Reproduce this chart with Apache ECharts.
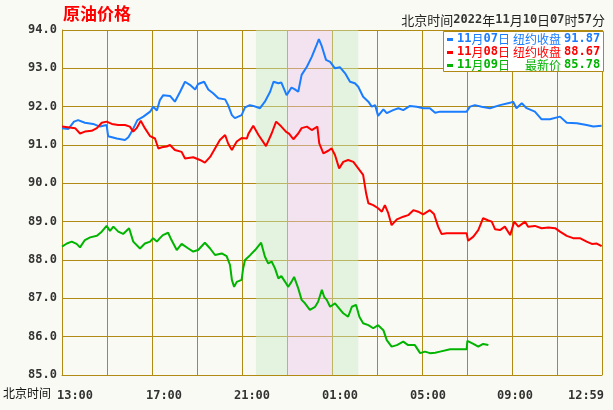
<!DOCTYPE html>
<html><head><meta charset="utf-8">
<script src="https://cdn.jsdelivr.net/npm/echarts@6/dist/echarts.min.js"></script>
<style>html,body{margin:0;padding:0;background:#fafaf5}#c{width:613px;height:410px}</style>
</head><body><div id="c"></div>
<script>
// minutes since 13:00 Beijing time
const blueT = [0,17,32,43,61,83,101,119,123,146,168,177,186,201,217,235,243,253,261,270,288,301,315,328,341,355,363,379,390,403,417,435,443,453,461,479,488,501,510,528,541,555,564,577,585,599,612,621,630,639,653,666,679,685,693,704,715,728,741,755,768,781,790,803,817,826,835,843,857,866,883,897,910,928,946,963,981,995,1008,1079,1088,1101,1119,1141,1168,1195,1203,1212,1226,1239,1261,1279,1301,1328,1346,1373,1399,1417,1439];
const blueV = [91.44,91.42,91.61,91.65,91.58,91.55,91.48,91.52,91.23,91.17,91.13,91.20,91.35,91.65,91.74,91.87,92.00,91.90,92.17,92.30,92.28,92.13,92.39,92.65,92.57,92.45,92.59,92.65,92.45,92.35,92.22,92.19,92.04,91.78,91.70,91.78,91.98,92.04,92.02,91.96,92.13,92.39,92.65,92.61,92.63,92.30,92.50,92.45,92.39,92.83,93.04,93.30,93.61,93.76,93.57,93.22,93.17,93.00,93.03,92.87,92.65,92.61,92.52,92.26,92.13,92.00,92.04,91.76,91.93,91.83,91.91,91.96,91.91,92.02,92.00,91.96,91.96,91.84,91.87,91.87,92.00,92.04,92.00,91.96,92.04,92.10,92.13,91.96,92.09,91.96,91.87,91.67,91.67,91.74,91.58,91.57,91.52,91.48,91.50];
const redT = [0,35,48,61,79,93,106,119,133,150,168,181,190,199,210,221,235,248,257,266,279,288,301,319,328,350,368,381,395,408,421,435,443,453,466,479,493,497,510,524,544,559,571,585,597,606,617,630,639,653,666,681,686,697,710,719,728,739,750,763,777,790,803,811,817,830,843,853,861,870,879,893,910,923,937,950,963,981,992,1003,1012,1026,1079,1083,1097,1110,1123,1137,1146,1155,1168,1181,1195,1206,1217,1235,1243,1261,1279,1297,1315,1328,1346,1363,1381,1399,1413,1426,1439];
const redV = [91.48,91.44,91.30,91.35,91.37,91.44,91.58,91.61,91.55,91.52,91.52,91.48,91.35,91.44,91.63,91.44,91.23,91.17,90.91,90.94,90.96,91.00,90.87,90.82,90.65,90.68,90.61,90.54,90.69,90.91,91.13,91.26,91.04,90.87,91.09,91.18,91.17,91.29,91.50,91.26,90.97,91.30,91.61,91.48,91.35,91.29,91.15,91.30,91.44,91.48,91.39,91.48,91.04,90.78,90.85,90.91,90.74,90.39,90.56,90.61,90.56,90.39,90.22,89.74,89.48,89.43,89.35,89.26,89.43,89.22,88.91,89.06,89.13,89.17,89.30,89.26,89.19,89.30,89.20,88.87,88.68,88.70,88.70,88.50,88.61,88.78,89.09,89.03,89.00,88.80,88.78,88.87,88.65,89.00,88.87,89.00,88.87,88.89,88.83,88.85,88.83,88.74,88.63,88.57,88.57,88.48,88.42,88.43,88.36];
const greenT = [0,13,26,39,48,61,75,93,106,119,128,137,150,163,179,190,208,221,235,243,253,261,269,283,292,306,319,337,350,363,381,395,408,426,439,448,453,459,466,479,483,488,501,515,524,531,541,550,559,568,577,585,595,603,612,619,630,639,648,661,675,683,693,699,706,715,728,739,750,763,773,784,793,803,817,830,843,857,866,879,893,910,923,941,955,968,981,995,1008,1035,1079,1081,1097,1110,1123,1137];
const greenV = [88.35,88.43,88.48,88.42,88.33,88.52,88.59,88.63,88.74,88.89,88.76,88.87,88.74,88.68,88.83,88.48,88.30,88.43,88.48,88.57,88.48,88.57,88.65,88.71,88.52,88.26,88.42,88.30,88.22,88.26,88.45,88.30,88.13,88.17,88.10,87.87,87.48,87.30,87.43,87.48,87.78,88.00,88.12,88.26,88.37,88.45,88.09,87.91,87.96,87.78,87.52,87.58,87.43,87.30,87.43,87.56,87.26,86.96,86.87,86.70,86.78,86.91,87.22,87.04,86.96,86.78,86.87,86.74,86.61,86.52,86.78,86.83,86.52,86.35,86.30,86.22,86.30,86.17,85.91,85.74,85.78,85.87,85.78,85.78,85.57,85.61,85.57,85.58,85.61,85.67,85.67,85.89,85.81,85.74,85.81,85.78];
const xTickLabels = ['13:00','17:00','21:00','01:00','05:00','09:00','12:59'];
const bandT = [517, 603, 720, 790];
const legendDates = ['11月07日','11月08日','11月09日'];
const legendNames = ['纽约收盘','纽约收盘','最新价'];
const legendValues = ['91.87','88.67','85.78'];
const titleText = '原油价格';
const timeText = ['北京时间','2022','年','11','月','10','日','07','时','57','分'];

const GOLD = '#b08a12';
const COLORS = ['#1a7cff', '#ff0000', '#00b400'];
const MONO = 'DejaVu Sans Mono';
const CJK = 'Noto Sans CJK SC';
const labelShift = [13, 12, 10, 8, 6, 3, -16];

const zip = (t, v) => t.map((x, i) => [x, v[i]]);

const xRich = {};
labelShift.forEach((d, i) => {
  xRich['s' + i] = {fontFamily: MONO, fontWeight: 'bold', fontSize: 12, color: '#333',
    padding: d >= 0 ? [0, 0, 0, 2 * d] : [0, -2 * d, 0, 0]};
});

function mixed(parts) {
  return parts.map(p => /^[0-9.]+$/.test(p) ? '{d|' + p + '}' : '{c|' + p + '}').join('');
}

const chart = echarts.init(document.getElementById('c'), null, {renderer: 'canvas'});
const legendGraphics = [{type: 'rect', shape: {x: 443.5, y: 31.5, width: 160, height: 40},
  style: {fill: '#ffffff', stroke: GOLD, lineWidth: 1}, z: 10}];
legendDates.forEach((d, i) => {
  const cy = 39 + i * 13;
  legendGraphics.push({type: 'rect', shape: {x: 447, y: cy - 1, width: 6, height: 3}, style: {fill: COLORS[i]}, z: 11});
  legendGraphics.push({type: 'text', x: 457, y: cy, z: 11, style: {
    text: mixed(d.match(/[0-9]+|[^0-9]+/g)), verticalAlign: 'middle', align: 'left',
    rich: {d: {fontFamily: MONO, fontWeight: 'bold', fontSize: 12, fill: COLORS[i]},
           c: {fontFamily: CJK, fontSize: 12, fill: COLORS[i]}}}});
  legendGraphics.push({type: 'text', x: 561, y: cy, z: 11, style: {
    text: legendNames[i], fontFamily: CJK, fontSize: 12, fill: COLORS[i], align: 'right', verticalAlign: 'middle'}});
  legendGraphics.push({type: 'text', x: 564, y: cy, z: 11, style: {
    text: legendValues[i], fontFamily: MONO, fontWeight: 'bold', fontSize: 12, fill: COLORS[i], align: 'left', verticalAlign: 'middle'}});
});

chart.setOption({
  animation: false,
  backgroundColor: '#fafaf5',
  title: {text: titleText, left: 63, top: 5, padding: 0,
    textStyle: {fontFamily: CJK, fontSize: 17, fontWeight: 'bold', color: '#ff0000'}},
  grid: {left: 62, right: 11, top: 30, bottom: 35, show: true, backgroundColor: '#fafaf5', borderWidth: 0},
  xAxis: {type: 'value', min: 0, max: 1440, interval: 120,
    axisLine: {show: true, lineStyle: {color: GOLD, width: 1}},
    axisTick: {show: false},
    splitLine: {show: true, lineStyle: {color: GOLD, width: 1}},
    axisLabel: {margin: 15, showMinLabel: true, showMaxLabel: true, rich: xRich,
      formatter: v => (v % 240 === 0) ? '{s' + (v / 240) + '|' + xTickLabels[v / 240] + '}' : ''}},
  yAxis: {type: 'value', min: 85, max: 94, interval: 1,
    axisLine: {show: true, lineStyle: {color: GOLD, width: 1}},
    axisTick: {show: false},
    splitLine: {show: true, lineStyle: {color: GOLD, width: 1}},
    axisLabel: {margin: 5, fontFamily: MONO, fontWeight: 'bold', fontSize: 12, color: '#333',
      formatter: v => v.toFixed(1)}},
  graphic: [
    {type: 'text', x: 3, y: 393, style: {text: '北京时间', fontFamily: CJK, fontSize: 12, fill: '#111', verticalAlign: 'middle'}},
    {type: 'text', x: 605, y: 20, style: {text: mixed(timeText), align: 'right', verticalAlign: 'middle',
      rich: {d: {fontFamily: MONO, fontWeight: 'bold', fontSize: 12, fill: '#333'},
             c: {fontFamily: CJK, fontSize: 13, fill: '#222'}}}},
    ...legendGraphics
  ],
  series: [
    {type: 'line', data: zip(blueT, blueV), symbol: 'none', lineStyle: {color: COLORS[0], width: 2}, z: 3,
      markArea: {silent: true, z: 1, data: [
        [{xAxis: bandT[0], itemStyle: {color: 'rgba(200,235,200,0.45)'}}, {xAxis: bandT[1]}],
        [{xAxis: bandT[1], itemStyle: {color: 'rgba(235,200,235,0.45)'}}, {xAxis: bandT[2]}],
        [{xAxis: bandT[2], itemStyle: {color: 'rgba(200,235,200,0.45)'}}, {xAxis: bandT[3]}]
      ]}},
    {type: 'line', data: zip(redT, redV), symbol: 'none', lineStyle: {color: COLORS[1], width: 2}, z: 3},
    {type: 'line', data: zip(greenT, greenV), symbol: 'none', lineStyle: {color: COLORS[2], width: 2}, z: 3}
  ]
});
</script></body></html>
